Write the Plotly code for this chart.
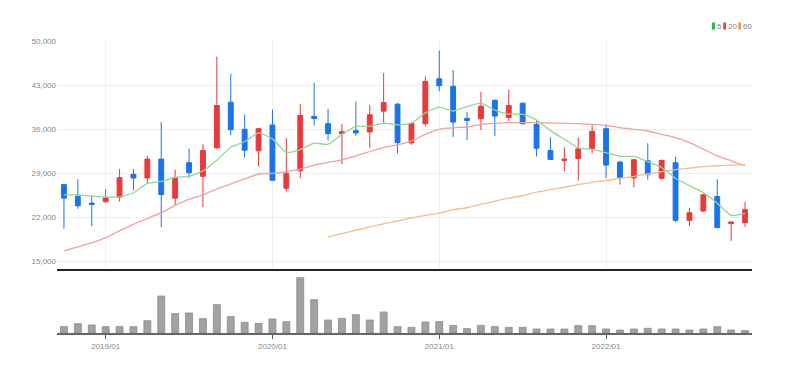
import plotly.graph_objects as go

# ---------------- data ----------------
months = ["2018/10", "2018/11", "2018/12",
          "2019/01", "2019/02", "2019/03", "2019/04", "2019/05", "2019/06",
          "2019/07", "2019/08", "2019/09", "2019/10", "2019/11", "2019/12",
          "2020/01", "2020/02", "2020/03", "2020/04", "2020/05", "2020/06",
          "2020/07", "2020/08", "2020/09", "2020/10", "2020/11", "2020/12",
          "2021/01", "2021/02", "2021/03", "2021/04", "2021/05", "2021/06",
          "2021/07", "2021/08", "2021/09", "2021/10", "2021/11", "2021/12",
          "2022/01", "2022/02", "2022/03", "2022/04", "2022/05", "2022/06",
          "2022/07", "2022/08", "2022/09", "2022/10", "2022/11"]

opens = [27158, 25316, 24210, 24421, 25158, 28790, 28210, 31211, 25000, 30632,
         28474, 33000, 40263, 35947, 32526, 36632, 26579, 29368, 38000, 36842,
         35263, 35737, 35526, 38842, 39947, 33790, 36842, 44000, 42790, 37684,
         37632, 40579, 37842, 40105, 36737, 32579, 31000, 31316, 32895, 36053,
         30737, 28210, 30947, 28158, 30632, 21474, 22947, 25263, 20947, 21105]

highs = [27300, 28000, 25316, 26421, 29632, 29632, 31737, 37105, 29526, 32895,
         33579, 47526, 44790, 38263, 36100, 39105, 34526, 40000, 43316, 39211,
         36842, 40368, 39790, 44895, 40158, 37105, 44368, 48474, 45368, 38737,
         41895, 40700, 42263, 40211, 37368, 34684, 33053, 34632, 36632, 36737,
         30947, 31263, 33737, 31158, 31579, 23474, 25684, 28000, 21300, 24421]

lows = [20158, 23316, 20526, 24316, 24474, 26211, 27263, 20421, 23947, 28210,
        23579, 32790, 35000, 31474, 30053, 27800, 26053, 28158, 36579, 34211,
        30421, 34895, 33000, 37000, 32105, 33474, 36421, 42000, 34737, 34263,
        35842, 34895, 37263, 36737, 31632, 31053, 29263, 27790, 32105, 28211,
        27158, 26737, 27947, 27947, 21211, 20526, 22790, 20200, 18210, 20421]

closes = [25000, 23790, 24000, 25053, 28263, 28210, 31211, 25579, 28263, 29053,
          32579, 39737, 35895, 32632, 36053, 27842, 28947, 38158, 37684, 35263,
          35579, 35368, 38263, 40211, 33842, 36895, 43579, 42895, 37105, 37368,
          39632, 38053, 39737, 36842, 32947, 31158, 31211, 32842, 35632, 30263,
          28316, 31105, 28737, 31000, 21474, 22684, 25526, 20316, 21211, 23158]

volumes = [19, 28, 24, 19, 19, 19, 37, 111, 58, 60,
           43, 85, 49, 32, 29, 42, 34, 166, 100, 39,
           44, 55, 39, 63, 19, 17, 33, 34, 23, 13,
           23, 19, 17, 17, 12, 12, 12, 22, 22, 12,
           9, 12, 14, 12, 12, 9, 12, 19, 9, 7]

ma5 = [25526, 25526, 25316, 25158, 25221, 25863, 27347, 27663, 28305, 28463,
       29337, 31042, 33105, 33979, 35379, 34432, 32274, 32726, 33737, 33579,
       35126, 36410, 36431, 36937, 36653, 36916, 38558, 39484, 38863, 39568,
       40116, 39011, 38379, 38326, 37442, 35747, 34379, 33000, 32758, 32221,
       31653, 31632, 30811, 29884, 28126, 27000, 25884, 24200, 22242, 22579]

ma20 = [16632, 17263, 17895, 18737, 19790, 20842, 21737, 22684, 23842, 24790,
        25526, 26474, 27263, 28053, 28842, 28947, 29211, 29632, 30263, 30684,
        31105, 31737, 32421, 33053, 33474, 34105, 35158, 35947, 36211, 36316,
        36737, 36895, 37000, 37000, 37000, 36947, 36947, 36842, 36737, 36579,
        36211, 35947, 35684, 35158, 34632, 33842, 32790, 31737, 30947, 30158]

ma60 = [None] * 19 + [
        18842, 19368, 19895, 20421, 20895, 21368, 21842, 22263, 22632, 23158,
        23474, 24000, 24526, 25000, 25421, 25947, 26368, 26737, 27158, 27526,
        27790, 28158, 28474, 28842, 29211, 29526, 29790, 30000, 30158, 30263, 30316]

price_ticks = [15000, 22000, 29000, 36000, 43000, 50000]
year_ticks = ["2019/01", "2020/01", "2021/01", "2022/01"]
legend_labels = ["5", "20", "60"]

# ---------------- style ----------------
UP = "#e83a3c"
DOWN = "#1a74e8"
C_MA5 = "#8fd88f"
C_MA20 = "#f2a0a0"
C_MA60 = "#f7bd88"
LEG_COLORS = ["#2fb84a", "#ec3b3b", "#f59a3c"]
FONT = "Liberation Sans"
FS = 8

# the page has an 8px body margin: figure is drawn 8px right/down
OFF = 8
W, H = 788 - OFF, 374 - OFF
# page-pixel geometry of the plot region
P_LEFT, P_RIGHT, P_TOP, P_BOTTOM = 57, 752, 30, 333
ML, MR = P_LEFT - OFF, W - (P_RIGHT - OFF)
MT, MB = P_TOP - OFF, H - (P_BOTTOM - OFF)
plot_w = W - ML - MR
plot_h = H - MT - MB


def px_x(px):
    return (px - P_LEFT) / plot_w


def px_y(py):
    return (P_BOTTOM - py) / plot_h


fig = go.Figure()

for vals, col in [(ma20, C_MA20), (ma60, C_MA60), (ma5, C_MA5)]:
    fig.add_trace(go.Scatter(
        x=months, y=vals, mode="lines", xaxis="x", yaxis="y",
        line=dict(color=col, width=1.3, shape="spline", smoothing=0.5),
        showlegend=False, hoverinfo="skip", connectgaps=False))

fig.add_trace(go.Candlestick(
    x=months, open=opens, high=highs, low=lows, close=closes,
    xaxis="x", yaxis="y",
    increasing=dict(line=dict(color=UP, width=1), fillcolor=UP),
    decreasing=dict(line=dict(color=DOWN, width=1), fillcolor=DOWN),
    whiskerwidth=0, showlegend=False))

fig.add_trace(go.Bar(
    x=months, y=volumes, xaxis="x2", yaxis="y2",
    marker=dict(color="#a2a2a2", line=dict(color="#8c8c8c", width=0.8)),
    showlegend=False))

# legend (coloured bars + labels) at top right
leg_rects = [(712, 715), (723.3, 726), (738.3, 741)]
leg_text_x = [716.3, 726.8, 741.8]
shapes = []
annotations = []
for (x0, x1), tx, col, lab in zip(leg_rects, leg_text_x, LEG_COLORS, legend_labels):
    shapes.append(dict(type="rect", xref="paper", yref="paper",
                       x0=px_x(x0), x1=px_x(x1), y0=px_y(29.5), y1=px_y(22.5),
                       fillcolor=col, line=dict(width=0)))
    annotations.append(dict(xref="paper", yref="paper", x=px_x(tx), y=px_y(26),
                            text=lab, showarrow=False, xanchor="left", yanchor="middle",
                            xshift=-1, font=dict(family=FONT, size=FS, color="#888888")))

fig.update_layout(
    width=W, height=H,
    margin=dict(l=ML, r=MR, t=MT, b=MB, autoexpand=False),
    paper_bgcolor="white", plot_bgcolor="white",
    boxgap=0.5, bargap=0.5,
    showlegend=False,
    shapes=shapes, annotations=annotations,
    font=dict(family=FONT, size=FS, color="#888888"),
    xaxis=dict(domain=[0, 1], anchor="y", type="category", automargin=False,
               range=[-0.5, len(months) - 0.5],
               tickvals=year_ticks, showticklabels=False, ticks="",
               showgrid=True, gridcolor="#eef0f2", gridwidth=1,
               showline=True, linecolor="#222222", linewidth=2,
               rangeslider=dict(visible=False), fixedrange=True),
    xaxis2=dict(domain=[0, 1], anchor="y2", type="category", matches="x",
                automargin=False,
                range=[-0.5, len(months) - 0.5],
                tickvals=year_ticks, ticktext=year_ticks,
                ticks="outside", ticklen=4, tickcolor="#555555", tickwidth=1,
                showgrid=False, showline=True, linecolor="#666666", linewidth=2,
                tickfont=dict(family=FONT, size=FS, color="#888888")),
    yaxis=dict(domain=[px_y(269), px_y(41)], anchor="x", automargin=False,
               range=[13730, 50000], tickvals=price_ticks, tickformat=",",
               showgrid=True, gridcolor="#eeeeee", gridwidth=1,
               zeroline=False, showline=False, ticks="",
               tickfont=dict(family=FONT, size=FS, color="#888888")),
    yaxis2=dict(domain=[0, px_y(275)], anchor="x2", range=[0, 174],
                automargin=False,
                showticklabels=False, showgrid=False, zeroline=False,
                showline=False, ticks=""),
)

fig.write_html("out.html")
